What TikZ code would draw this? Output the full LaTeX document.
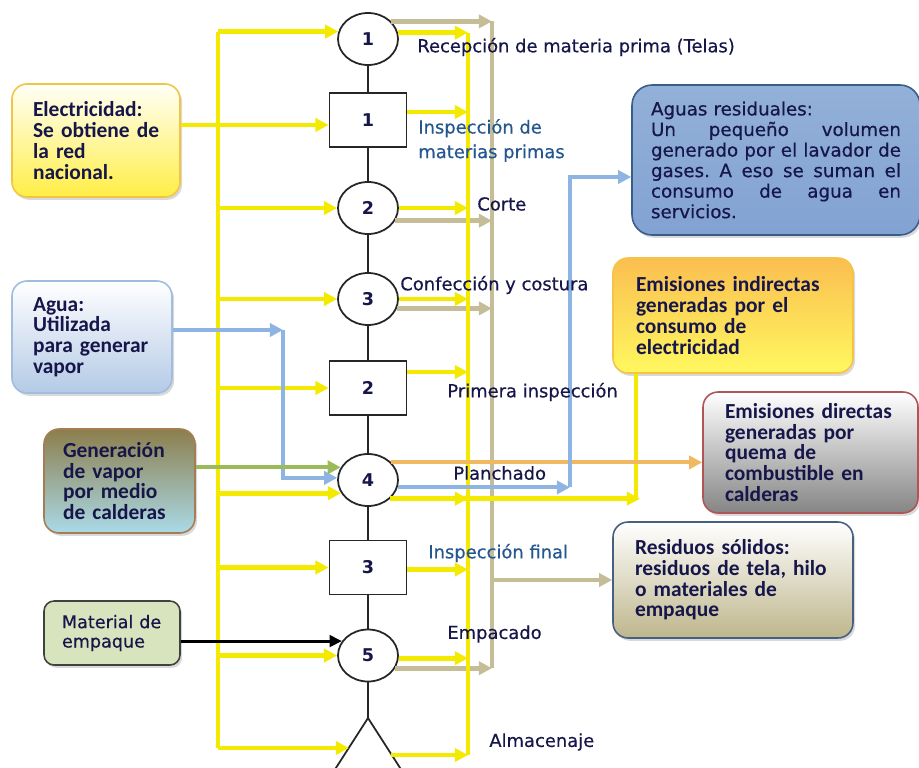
\documentclass[tikz,border=0pt]{standalone}
\usepackage{fontspec}
\setmainfont{DejaVu Sans}
\newfontfamily\calfont{Carlito}
\newfontfamily\lblfont[FakeBold=0.5]{DejaVu Sans}
\usetikzlibrary{arrows.meta,shapes.geometric,shadows,calc}

% stretchable word space for the justified paragraph
\newcommand\jsp{\hskip 0.3em plus 1fil\relax}
\newcommand\jline[1]{\leavevmode\hbox to 5cm{#1}}

\definecolor{yel}{HTML}{F4EA00}
\definecolor{tanc}{HTML}{C4BD97}
\definecolor{blu}{HTML}{8DB4E2}
\definecolor{ora}{HTML}{F0B860}
\definecolor{grn}{HTML}{9BBB59}
\definecolor{txt}{HTML}{16164A}
\definecolor{insp}{HTML}{24568F}

\tikzset{
  stepc/.style={ellipse, draw=black!85, line width=1pt, fill=white,
    minimum width=1.2cm, minimum height=1.04cm, inner sep=0pt,
    text=txt, font=\bfseries\fontsize{10}{12}\selectfont},
  stepr/.style={rectangle, draw=black!85, line width=1pt, fill=white,
    minimum width=1.54cm, minimum height=1.08cm, inner sep=0pt,
    text=txt, font=\bfseries\fontsize{10}{12}\selectfont},
  spine/.style={draw=black!85, line width=1.1pt},
  tip/.style={-{Triangle[length=7.5pt,width=7.5pt]}},
  ypath/.style={draw=yel, line width=2.8pt},
  yarr/.style={ypath, tip},
  tpath/.style={draw=tanc, line width=2.8pt},
  tarr/.style={tpath, tip},
  barr/.style={draw=blu, line width=2.3pt, tip},
  oarr/.style={draw=ora, line width=2.3pt, tip},
  garr/.style={draw=grn, line width=2.3pt, tip},
  karr/.style={draw=black, line width=1.7pt, -{Triangle[length=7pt,width=6.5pt]}},
  infobox/.style={rectangle, rounded corners=0.3cm, line width=0.9pt,
    align=left, text=txt, inner ysep=0pt,
    font=\calfont\bfseries\fontsize{12.2}{11.8}\selectfont,
    drop shadow={shadow xshift=1.2pt, shadow yshift=-1.6pt, opacity=0.3}},
  lbl/.style={anchor=west, inner sep=0pt, text=txt, align=left,
    font=\lblfont\fontsize{10.2}{14}\selectfont}
}

\begin{document}
\begin{tikzpicture}[x=0.02cm, y=-0.02cm]
\useasboundingbox (0,0) rectangle (919,767);

% ---------- process chart steps ----------
\node[stepc] (c1) at (368,39) {1};
\node[stepr] (b1) at (368,120) {1};
\node[stepc] (c2) at (368,208) {2};
\node[stepc] (c3) at (368,299) {3};
\node[stepr] (b2) at (368,388) {2};
\node[stepc] (c4) at (368,480) {4};
\node[stepr] (b3) at (368,567.5) {3};
\node[stepc] (c5) at (368,655.5) {5};
\coordinate (alm) at (368,718);
\coordinate (almL) at ($(alm)+(-19,30)$);
\coordinate (almR) at ($(alm)+(23,37)$);
\begin{scope}
  \clip (0,0) rectangle (919,767);
  \draw[draw=black!85, line width=1pt, fill=white]
    (alm) -- ++(-36,56) -- ++(72,0) -- cycle;
\end{scope}

% ---------- inputs (left) ----------
\node[infobox, draw={rgb,255:red,242;green,196;blue,70}, top color=yellow!3,
      bottom color={rgb,255:red,255;green,238;blue,70},
      text width=2.52cm, inner xsep=0.42cm, minimum height=2.26cm]
  (elec) at (96,140.5) {Electricidad:\\\mbox{Se obtiene de}\\la red\\nacional.};
\node[infobox, draw={rgb,255:red,160;green,188;blue,222}, top color=white,
      bottom color={rgb,255:red,180;green,202;blue,230},
      text width=2.36cm, inner xsep=0.42cm, minimum height=2.24cm]
  (agua) at (92,337) {Agua:\\Utilizada\\\mbox{para generar}\\vapor};
\node[infobox, draw={rgb,255:red,165;green,125;blue,85},
      top color={rgb,255:red,140;green,126;blue,76},
      bottom color={rgb,255:red,170;green,218;blue,232},
      text width=2.26cm, inner xsep=0.38cm, minimum height=2.08cm]
  (gen) at (119.5,481) {Generación\\de vapor\\por medio\\\mbox{de calderas}};
\node[infobox, draw=black!75, fill={rgb,255:red,215;green,228;blue,189},
      rounded corners=0.2cm, font=\lblfont\fontsize{10}{11}\selectfont,
      text width=2.0cm, inner xsep=0.36cm, minimum height=1.28cm]
  (mat) at (112,633) {\mbox{Material de}\\empaque};

% ---------- outputs (right) ----------
\node[infobox, draw={rgb,255:red,56;green,93;blue,138},
      top color={rgb,255:red,146;green,176;blue,216},
      middle color={rgb,255:red,58;green,100;blue,172},
      bottom color={rgb,255:red,130;green,162;blue,210},
      font=\lblfont\fontsize{10.4}{11.7}\selectfont, rounded corners=0.4cm,
      text width=5.0cm, inner xsep=0.38cm, minimum height=3.0cm]
  (aguas) at (776,160) {Aguas residuales:\\
    \jline{Un\jsp pequeño\jsp volumen}\\
    \jline{generado\jsp por\jsp el\jsp lavador\jsp de}\\
    \jline{gases.\jsp A\jsp eso\jsp se\jsp suman\jsp el}\\
    \jline{consumo\jsp de\jsp agua\jsp en}\\
    servicios.};
\node[infobox, draw={rgb,255:red,245;green,195;blue,70},
      top color={rgb,255:red,250;green,190;blue,80},
      bottom color={rgb,255:red,255;green,248;blue,95},
      text width=3.88cm, inner xsep=0.46cm, minimum height=2.3cm]
  (ind) at (733,315.5) {\mbox{Emisiones indirectas}\\generadas por el\\consumo de\\electricidad};
\node[infobox, draw={rgb,255:red,175;green,85;blue,85},
      top color=white, bottom color=black!48,
      text width=3.42cm, inner xsep=0.44cm, minimum height=2.42cm]
  (dir) at (810.5,452.5) {\mbox{Emisiones directas}\\generadas por\\quema de\\\mbox{combustible en}\\calderas};
\node[infobox, draw={rgb,255:red,70;green,95;blue,130},
      top color=white, bottom color={rgb,255:red,190;green,182;blue,140},
      text width=3.92cm, inner xsep=0.44cm, minimum height=2.32cm]
  (res) at (733,580) {Residuos sólidos:\\\mbox{residuos de tela, hilo}\\o materiales de\\empaque};

% ---------- helper coordinates ----------
\coordinate (trunkx) at (218,0);
\coordinate (ryx) at (468,0);
\coordinate (tanx) at (492,0);
\coordinate (indx) at (636,0);
\coordinate (bup) at (570,0);
\coordinate (bturn) at (283,330);
\coordinate (b1in) at ($(b1.west)+(0,5)$);
\coordinate (b1out) at ($(b1.east)+(0,-8)$);
\coordinate (b2out) at ($(b2.east)+(0,-16)$);
\coordinate (b3out) at ($(b3.east)+(0,2)$);
\coordinate (aguasin) at ($(aguas.west)+(0,17)$);

% ---------- spine ----------
\draw[spine] (c1) -- (b1) -- (c2) -- (c3) -- (b2) -- (c4) -- (b3) -- (c5) -- (alm);

% ---------- solid waste collector ----------
\draw[tpath] (tanx |- c1.37) -- (tanx |- c5.-25);
\draw[tarr] (c1.37) -- (tanx |- c1.37);
\draw[tarr] (c2.-25) -- (tanx |- c2.-25);
\draw[tarr] (c3.-18) -- (tanx |- c3.-18);
\draw[tarr] (c5.-25) -- (tanx |- c5.-25);
\draw[tarr] (tanx |- res.west) -- (res.west);

% ---------- electricity distribution ----------
\draw[ypath] (trunkx |- c1.166) -- (trunkx |- almL);
\draw[yarr] (trunkx |- c1.166) -- (c1.166);
\draw[yarr] (elec.east |- b1in) -- (b1in);
\draw[yarr] (trunkx |- c2.west) -- (c2.west);
\draw[yarr] (trunkx |- c3.west) -- (c3.west);
\draw[yarr] (trunkx |- b2.west) -- (b2.west);
\draw[yarr] (trunkx |- c4.206) -- (c4.206);
\draw[yarr] (trunkx |- b3.west) -- (b3.west);
\draw[yarr] (trunkx |- c5.west) -- (c5.west);
\draw[yarr] (trunkx |- almL) -- (almL);

% ---------- indirect emissions collector ----------
\draw[ypath] (ryx |- c1.12) -- (ryx |- almR);
\draw[yarr] (c1.12) -- (ryx |- c1.12);
\draw[yarr] (b1out) -- (ryx |- b1out);
\draw[yarr] (c2.east) -- (ryx |- c2.east);
\draw[yarr] (c3.east) -- (ryx |- c3.east);
\draw[yarr] (b2out) -- (ryx |- b2out);
\draw[ypath] (indx |- ind.south) -- (indx |- c4.-40);
\draw[yarr] (c4.-40) -- ($(indx |- c4.-40)+(4,0)$);
\draw[yarr] (c4.-40) -- (ryx |- c4.-40);
\draw[yarr] (b3out) -- (ryx |- b3out);
\draw[yarr] (c5.-5) -- (ryx |- c5.-5);
\draw[yarr] (almR) -- (ryx |- almR);

% ---------- direct emissions ----------
\draw[oarr] (c4.37) -- (dir.west |- c4.37);

% ---------- water ----------
\draw[barr] (agua.east |- bturn) -- (bturn);
\draw[barr] (bturn) |- (c4.176);
\draw[barr] (c4.-14) -- (bup |- c4.-14);
\draw[barr] (bup |- c4.-14) |- (aguasin);

% ---------- steam and packaging ----------
\draw[garr] (gen.east |- c4.155) -- (c4.155);
\draw[karr] (mat.east |- c5.151) -- (c5.151);

% ---------- operation names ----------
\node[lbl] (l1) at (417,47) {Recepción de materia prima (Telas)};
\node[lbl, text=insp] (l2) at (418,140.5) {Inspección de\\materias primas};
\node[lbl] (l3) at (477,204) {Corte};
\node[lbl] (l4) at (400,285) {Confección y costura};
\node[lbl] (l5) at (447,392) {Primera inspección};
\node[lbl] (l6) at (453,473) {Planchado};
\node[lbl, text=insp] (l7) at (428,553) {Inspección final};
\node[lbl] (l8) at (447,634) {Empacado};
\node[lbl] (l9) at (489,742) {Almacenaje};
\end{tikzpicture}
\end{document}
